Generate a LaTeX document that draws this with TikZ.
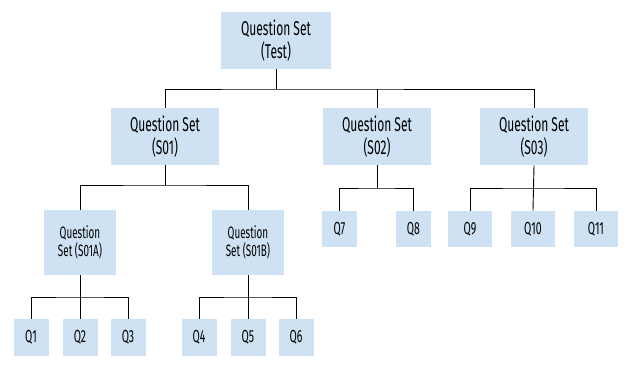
\documentclass[tikz,border=0pt]{standalone}
\usepackage{fontspec}
\setmainfont{Fira Sans}[FakeStretch=0.6]
\usetikzlibrary{positioning}
\definecolor{setblue}{HTML}{CFE2F3}

\begin{document}
\begin{tikzpicture}[x=1pt, y=-1pt, line width=0.9pt,
    box/.style={fill=setblue, align=center, inner sep=0pt},
    bigset/.style={box, minimum width=108pt, minimum height=57pt, font=\fontsize{20}{23}\selectfont},
    subset/.style={box, minimum width=72pt, minimum height=65pt, font=\fontsize{16.5}{18.5}\selectfont},
    qbox/.style={box, minimum width=35pt, minimum height=37pt, font=\fontsize{17.5}{18}\selectfont}]
    \useasboundingbox (0,0) rectangle (630,369);
    % Oberste Ebene
    \node[bigset, minimum width=110pt] (test) at (276,40.5) {Question Set\\(Test)};
    \node[bigset] (s01) at (165,136.5) {Question Set\\(S01)};
    \node[bigset] (s02) at (377,136.5) {Question Set\\(S02)};
    \node[bigset] (s03) at (534,136.5) {Question Set\\(S03)};
    % Untermengen von S01
    \node[subset] (s01a) at (80,242.5) {Question\\Set (S01A)};
    \node[subset] (s01b) at (248,242.5) {Question\\Set (S01B)};
    % Fragen
    \node[qbox] (q1) at (31,337.5) {Q1};
    \node[qbox] (q2) at (80,337.5) {Q2};
    \node[qbox] (q3) at (128,337.5) {Q3};
    \node[qbox] (q4) at (199,337.5) {Q4};
    \node[qbox] (q5) at (248,337.5) {Q5};
    \node[qbox] (q6) at (296,337.5) {Q6};
    \node[qbox, minimum height=36pt] (q7) at (339.5,229) {Q7};
    \node[qbox, minimum height=36pt] (q8) at (413.5,229) {Q8};
    \node[qbox, minimum width=44pt, minimum height=36pt] (q9) at (470,229) {Q9};
    \node[qbox, minimum width=44pt, minimum height=36pt] (q10) at (533,229) {Q10};
    \node[qbox, minimum width=44pt, minimum height=36pt] (q11) at (596,229) {Q11};

    % Verbindungen
    \coordinate (bus0) at (276,89);
    \draw (test.south) -- (bus0);
    \draw (s01.north) |- (bus0) -| (s03.north);
    \draw (s02.north) -- (s02.north |- bus0);

    \coordinate (bus1) at (165,185);
    \draw (s01.south) -- (bus1);
    \draw (s01a.north) |- (bus1) -| (s01b.north);

    \coordinate (bus2) at (377,188);
    \draw (s02.south) -- (bus2);
    \draw (q7.north) |- (bus2) -| (q8.north);

    \coordinate (bus3) at (534,188);
    \draw (s03.south) -- (q10.north);
    \draw (q9.north) |- (bus3) -| (q11.north);

    \coordinate (bus4) at (80,297);
    \draw (s01a.south) -- (q2.north);
    \draw (q1.north) |- (bus4) -| (q3.north);

    \coordinate (bus5) at (248,297);
    \draw (s01b.south) -- (q5.north);
    \draw (q4.north) |- (bus5) -| (q6.north);
\end{tikzpicture}
\end{document}
